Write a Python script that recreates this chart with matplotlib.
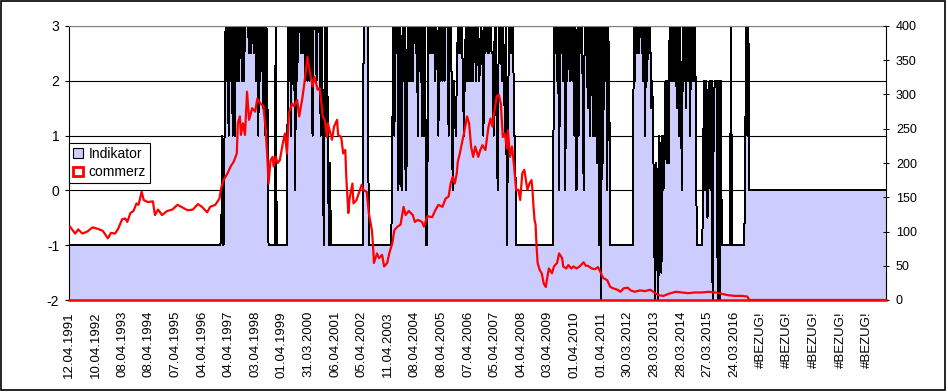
import numpy as np
import matplotlib
matplotlib.use("Agg")
import matplotlib.pyplot as plt
from matplotlib.patches import Patch, Rectangle

# Indikator levels, one letter per category (2-week grid)
LEVELS = {"a": -2.0, "b": -1.5, "c": -1.0, "d": -0.5, "e": 0.0, "f": 0.5,
          "g": 1.0, "h": 1.5, "i": 2.0, "j": 2.5, "k": 3.0}

ind_codes = [
    "c" * 149,
    "dgcg", "kikgkikgkgkiki", "kkikikkkk",
    "jkj", "kkjk", "ikgki", "kk", "hkgkh",
    "c" * 7, "k", "c" * 11,
    "kikgkikek", "ikkk", "jkj", "k", "ikiki", "kkgk", "kkikkk",
    "gkgckgkgcf",
    "c" * 32, "k" * 5, "c" * 23,
    "gkgkjkekie", "kikefkikik", "ikkjkgkjkg", "kgkcc",
    "k", "jkjkj", "kikj", "g", "kikik", "i", "kkkg", "kk",
    "ieihgikj", "kjkigjkik", "ikiki", "kkikki", "jkj", "g",
    "kjkkjkk", "jj", "g", "kk", "g", "e", "kjkikj", "gkcgk", "jkjk", "gg",
    "c" * 37,
    "k", "jkikekjkikek", "ikkiki", "kgkekgk", "jkiekjk", "hkgkkgkgk",
    "fkckakf", "kikeki",
    "c" * 23, "k",
    "ikjkjkkk", "ikgki", "kjkhi",
    "gcafeagebgeg", "ififkiki",
    "kikhkgkiekikhkikgkiki", "ke",
    "c" * 6, "gieidei", "eiagiii", "aiai",
    "c" * 9, "k", "c" * 13, "gkgk",
    "e" * 134,
]

# commerz (right axis), category index -> value
cz_idx = [1, 6, 9, 13, 18, 23, 28, 33, 38, 41, 45, 48, 52, 55, 57, 60, 63, 66, 68, 71,
          73, 77, 82, 84, 87, 91, 96, 101, 106, 111, 116, 121, 126, 130, 135, 138, 143, 147,
          149, 151, 155, 158, 161, 164, 165, 167, 168, 170, 172, 174, 176, 179, 182, 184,
          187, 190, 192, 194, 195, 197, 199, 200, 202, 204, 206, 209, 211, 213, 215, 218,
          220, 223, 225, 228, 230, 233, 235, 238, 240, 243, 245,
          246, 248, 250, 252, 253, 257, 259, 262, 263, 266, 268, 270, 271, 273, 274, 277,
          278, 281, 283, 286, 288, 291, 293, 296, 297, 298, 301, 303, 306, 308, 311, 313,
          316, 318, 321, 324, 327, 329, 332, 336, 338, 341, 345, 347, 350,
          351, 355, 358, 361, 365, 368, 371, 373, 375, 377, 379, 380, 382, 384, 386, 389,
          391, 393, 395, 397, 400, 402, 404, 407, 410, 412, 414, 415, 418, 420, 422, 424,
          426, 428, 429, 431, 433, 435, 437, 439, 441, 443, 445, 448, 450, 452, 453, 454,
          455, 456, 457, 458, 460, 462, 464, 466, 467, 469, 472, 474, 477, 479, 482, 483,
          486, 488, 491, 493, 496, 499, 503, 505, 507, 511, 514, 517, 520, 522, 526, 529,
          532, 536, 539, 542, 546, 549, 553, 558, 563, 568, 571, 576, 581, 586, 593, 599,
          605, 612, 619, 625, 632, 638, 644, 651, 658, 663, 665, 798]
cz_val = [107, 97, 103, 97, 100, 106, 104, 101, 90, 98, 97, 104, 118, 119, 114, 127, 130, 141, 139, 158,
          146, 143, 144, 124, 132, 124, 130, 132, 139, 135, 131, 132, 140, 136, 128, 136, 139, 148,
          165, 175, 185, 195, 202, 214, 258, 268, 241, 258, 241, 304, 263, 280, 275, 294,
          287, 283, 253, 204, 170, 204, 209, 195, 209, 200, 204, 229, 243, 214, 273, 287,
          283, 292, 268, 294, 316, 355, 336, 312, 326, 307, 309,
          297, 268, 263, 238, 258, 234, 253, 263, 241, 238, 214, 219, 180, 127, 146, 170,
          141, 146, 155, 168, 160, 158, 127, 102, 83, 54, 68, 61, 66, 49, 54, 68,
          83, 102, 107, 110, 136, 124, 130, 124, 114, 117, 114, 107, 122,
          122, 121, 131, 139, 136, 148, 151, 170, 180, 170, 185, 202, 214, 229, 243, 268,
          258, 224, 209, 224, 209, 219, 226, 219, 253, 265, 253, 268, 297, 300, 287, 238,
          243, 221, 248, 209, 224, 195, 161, 161, 146, 185, 190, 161, 170, 175, 160, 136,
          117, 110, 78, 54, 44, 39, 24, 19, 29, 46, 39, 49, 54, 68, 61, 49,
          46, 51, 46, 49, 46, 49, 55, 50, 50, 46, 45, 48, 39, 32, 29, 19,
          17, 15, 12, 17, 18, 14, 12, 14, 13, 15, 12, 7, 6, 9, 12, 11,
          10, 11, 11, 12, 11, 9, 7, 6, 6, 5, 0, 0]

dates = ["12.04.1991", "10.04.1992", "08.04.1993", "08.04.1994", "07.04.1995",
         "04.04.1996", "04.04.1997", "03.04.1998", "01.04.1999", "31.03.2000",
         "06.04.2001", "05.04.2002", "11.04.2003", "08.04.2004", "08.04.2005",
         "07.04.2006", "05.04.2007", "04.04.2008", "03.04.2009", "01.04.2010",
         "01.04.2011", "30.03.2012", "28.03.2013", "28.03.2014", "27.03.2015",
         "24.03.2016"]
tick_labels = dates + ["#BEZUG!"] * 5
label_step = 26

left_ticks = [-2, -1, 0, 1, 2, 3]
right_ticks = [0, 50, 100, 150, 200, 250, 300, 350, 400]


def main():
    plt.rcParams["font.family"] = ["Liberation Sans", "DejaVu Sans"]

    indikator = np.array([LEVELS[ch] for ch in "".join(ind_codes)])
    n = len(indikator)
    x = np.arange(n)

    fig = plt.figure(figsize=(9.48, 3.92), dpi=100)
    ax1 = fig.add_axes([69 / 948, 92 / 392, 816.5 / 948, 274 / 392])

    # Indikator als Flaeche (unten bis -2)
    ax1.fill_between(x, -2, indikator, color="#CCCCFF", lw=0, zorder=1)
    ax1.plot(x, indikator, color="black", lw=0.72, antialiased=False, zorder=2)
    ax1.set_xlim(0, n - 1)
    ax1.set_ylim(-2, 3)
    ax1.set_yticks(left_ticks)
    ax1.set_yticklabels([str(t) for t in left_ticks])
    ax1.set_xticks(range(0, n, label_step))
    ax1.set_xticklabels(tick_labels, rotation=90)
    ax1.grid(axis="y", color="black", lw=0.8)
    ax1.set_axisbelow(True)
    ax1.tick_params(axis="x", length=0, pad=8, labelsize=9.5)
    ax1.tick_params(axis="y", direction="out", length=3, width=0.8, labelsize=10, pad=4)
    ax1.spines["top"].set_color("#808080")
    ax1.spines["right"].set_visible(False)
    for s in ["left", "bottom", "top"]:
        ax1.spines[s].set_linewidth(0.8)

    # commerz auf der rechten Achse
    ax2 = ax1.twinx()
    ax2.plot(cz_idx, cz_val, color="#FF0000", lw=1.6, zorder=3)
    ax2.axhline(0, color="#FF0000", lw=1.8, clip_on=False, zorder=3)
    ax2.set_ylim(0, 400)
    ax2.set_yticks(right_ticks)
    ax2.tick_params(axis="y", direction="inout", length=5, width=0.8, labelsize=9, pad=5)
    for s in ["left", "top", "bottom"]:
        ax2.spines[s].set_visible(False)
    ax2.spines["right"].set_linewidth(0.8)

    handles = [Patch(facecolor="#CCCCFF", edgecolor="black", lw=0.8),
               Patch(facecolor="white", edgecolor="#FF0000", lw=2)]
    leg = ax2.legend(handles, ["Indikator", "commerz"], loc="upper left",
                     bbox_to_anchor=(0, 0.573), fontsize=10, frameon=True,
                     fancybox=False, framealpha=1, edgecolor="black",
                     borderaxespad=0, handlelength=0.7, handleheight=0.7,
                     handletextpad=0.4, labelspacing=0.3, borderpad=0.3)
    leg.get_frame().set_linewidth(0.8)

    # Rahmen um das Diagramm
    fig.add_artist(Rectangle((1 / 948, 2 / 392), 944 / 948, 389 / 392,
                             transform=fig.transFigure, fill=False,
                             edgecolor="black", lw=1.2))

    fig.savefig("out.png", dpi=100)


if __name__ == "__main__":
    main()
